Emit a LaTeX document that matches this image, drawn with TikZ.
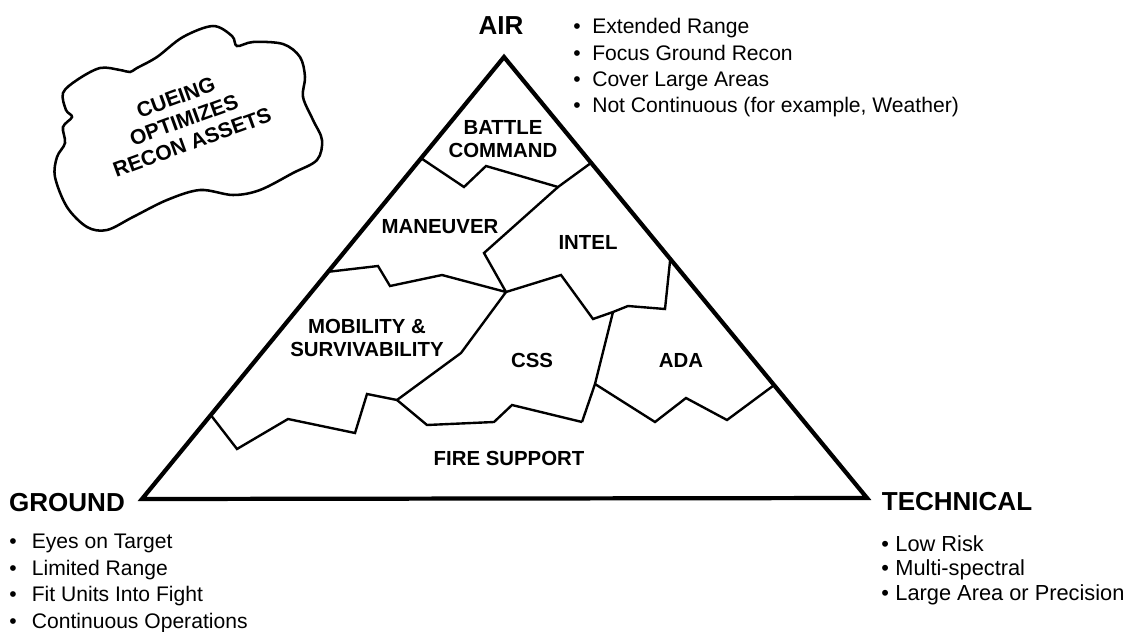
\documentclass[tikz,border=0pt]{standalone}
\usepackage{fontspec}
\setmainfont{Liberation Sans}
\usetikzlibrary{calc}
\newcommand{\bpt}[1][0.6em]{\textbullet\hspace{#1}}

\begin{document}
\begin{tikzpicture}[x=0.025cm,y=-0.025cm,
  headlbl/.style={font=\fontsize{18.5}{22}\selectfont\bfseries,inner sep=0pt},
  zone/.style={font=\fontsize{14.5}{16.5}\selectfont\bfseries,align=center,inner sep=0pt},
  bullets/.style={font=\fontsize{15}{18.8}\selectfont,align=left,anchor=north west,inner sep=0pt},
  tri/.style={line width=3pt,line join=miter},
  border/.style={line width=1.7pt,line join=miter},
]
\useasboundingbox (0,0) rectangle (1135,631);
% ---------- triangle ----------
\coordinate (apex) at (504,57);
\coordinate (gv) at (142,499);
\coordinate (tv) at (867,498);
\draw[tri] (apex) -- (gv) -- (tv) -- cycle;
% ---------- corner labels ----------
\node[headlbl] (air) at (501,26) {AIR};
\node[headlbl] (ground) at (67,503) {GROUND};
\node[headlbl] (tech) at (957,502) {TECHNICAL};
\node[bullets] (airlist) at (573,18)
  {\bpt[0.55em]Extended Range\\\bpt[0.55em]Focus Ground Recon\\\bpt[0.55em]Cover Large Areas\\\bpt[0.55em]Not Continuous (for example, Weather)};
\node[bullets] (groundlist) at (9,534)
  {\bpt[0.72em]Eyes on Target\\\bpt[0.72em]Limited Range\\\bpt[0.72em]Fit Units Into Fight\\\bpt[0.72em]Continuous Operations};
\node[bullets,font=\fontsize{15.5}{17.4}\selectfont] (techlist) at (881,535)
  {\bpt[0.3em]Low Risk\\\bpt[0.3em]Multi-spectral\\\bpt[0.3em]Large Area or Precision};
% ---------- cloud ----------
\draw[line width=1.8pt] plot[smooth cycle,tension=0.55] coordinates {
  (213,26) (232,36) (237,46) (253,42) (283,44) (300,57) (305,77) (303,97)
  (313,120) (322,140) (317,160) (293,173) (260,190) (233,195) (200,190)
  (167,200) (133,217) (107,230) (87,227) (67,207) (55,177) (57,157)
  (65,143) (63,127) (72,117) (66,110) (63,93) (77,80) (100,68) (120,70)
  (130,72) (137,68) (157,57) (183,37)};
\node[zone,font=\fontsize{15}{17}\selectfont\bfseries,rotate=20] (cue) at (184,120)
  {CUEING\\OPTIMIZES\\RECON ASSETS};
% ---------- region borders ----------
\coordinate (bcj) at (558,187);
\coordinate (mid) at (506,292);
\coordinate (cssj) at (397,400);
\coordinate (adaj) at (613,312);
\coordinate (adab) at (595,384);
\coordinate (cssb) at (582,422);
\draw[border] ($(apex)!0.229!(gv)$) -- (464,187) -- (486,166) -- (bcj) -- ($(apex)!0.240!(tv)$);
\draw[border] (bcj) -- (484,253) -- (mid);
\draw[border] ($(apex)!0.486!(gv)$) -- (378,266) -- (390,286) -- (442,275) -- (mid);
\draw[border] (mid) -- (561,275) -- (593,319) -- (adaj) -- (628,306) -- (665,309) -- ($(apex)!0.458!(tv)$);
\draw[border] (adaj) -- (adab) -- (cssb);
\draw[border] (mid) -- (461,353) -- (cssj);
\draw[border] ($(apex)!0.81!(gv)$) -- (237,449) -- (288,419) -- (355,433) -- (367,394) -- (cssj);
\draw[border] (cssj) -- (427,425) -- (494,422) -- (512,405) -- (cssb);
\draw[border] (adab) -- (655,422) -- (686,398) -- (727,420) -- ($(apex)!0.744!(tv)$);
% ---------- region labels ----------
\node[zone] (bc) at (503,139) {BATTLE\\COMMAND};
\node[zone] (man) at (440,227) {MANEUVER};
\node[zone] (intel) at (588,242) {INTEL};
\node[zone] (mobsurv) at (367,338) {MOBILITY \&\\SURVIVABILITY};
\node[zone] (css) at (532,360) {CSS};
\node[zone] (ada) at (681,360) {ADA};
\node[zone] (fire) at (509,458) {FIRE SUPPORT};
\end{tikzpicture}
\end{document}
